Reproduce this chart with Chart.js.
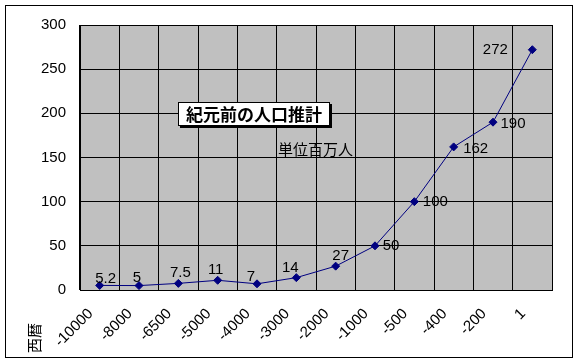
<!DOCTYPE html>
<html>
<head>
<meta charset="utf-8">
<script src="https://cdn.jsdelivr.net/npm/chart.js@4"></script>
<style>
html,body{margin:0;padding:0;background:#fff;}
#c{display:block;}
</style>
</head>
<body>
<canvas id="c" width="580" height="363"></canvas>
<script>
const categories = ['-10000','-8000','-6500','-5000','-4000','-3000','-2000','-1000','-500','-400','-200','1'];
const population = [5.2, 5, 7.5, 11, 7, 14, 27, 50, 100, 162, 190, 272];
const yMin = 0, yMax = 300, yStep = 50;
const chartTitle = '紀元前の人口推計';
const unitText = '単位百万人';
const xAxisTitle = '西暦';

// label placement offsets (px) relative to each point
const labelOffsets = [[6,-7],[-2,-8],[2,-11],[-2,-10],[-6,-7],[-6,-10],[5,-10],[16,0],[21,0],[22,2],[20,2],[-37,0]];

const latin = '"Liberation Sans", Arial, sans-serif';
const cjk = '"Noto Sans CJK JP", sans-serif';

const decor = {
  id: 'decor',
  beforeDraw(chart) {
    const {ctx, chartArea: a} = chart;
    ctx.save();
    ctx.fillStyle = '#fff';
    ctx.fillRect(0, 0, chart.width, chart.height);
    ctx.fillStyle = '#C0C0C0';
    ctx.fillRect(a.left, a.top, a.right - a.left, a.bottom - a.top);
    ctx.restore();
  },
  afterDraw(chart) {
    const {ctx} = chart;
    ctx.save();
    ctx.strokeStyle = '#000';
    ctx.lineWidth = 1;
    ctx.strokeRect(5.5, 5.5, 567, 352);
    ctx.fillStyle = '#000';
    ctx.fillRect(180, 104, 152, 24);
    ctx.fillStyle = '#fff';
    ctx.fillRect(178, 102, 152, 24);
    ctx.strokeStyle = '#000';
    ctx.strokeRect(178.5, 102.5, 151, 23);
    ctx.fillStyle = '#000';
    ctx.font = 'bold 17px ' + cjk;
    ctx.textAlign = 'center';
    ctx.textBaseline = 'middle';
    ctx.fillText(chartTitle, 254, 115);
    ctx.font = '15px ' + cjk;
    ctx.textAlign = 'left';
    ctx.fillText(unitText, 278, 149);
    ctx.translate(34, 338);
    ctx.rotate(-Math.PI / 2);
    ctx.font = '15px ' + cjk;
    ctx.textAlign = 'center';
    ctx.fillText(xAxisTitle, 0, 0);
    ctx.restore();
  },
  afterDatasetsDraw(chart) {
    const {ctx} = chart;
    const meta = chart.getDatasetMeta(0);
    ctx.save();
    ctx.fillStyle = '#000';
    ctx.font = '15px ' + latin;
    ctx.textAlign = 'center';
    ctx.textBaseline = 'middle';
    meta.data.forEach((pt, i) => {
      const off = labelOffsets[i] || [0, -10];
      ctx.fillText(String(population[i]), pt.x + off[0], pt.y + off[1]);
    });
    ctx.restore();
  }
};

new Chart(document.getElementById('c'), {
  type: 'line',
  data: {
    labels: categories,
    datasets: [{
      data: population,
      borderColor: '#000080',
      backgroundColor: '#000080',
      borderWidth: 1,
      pointStyle: 'rectRot',
      pointRadius: 4,
      pointBackgroundColor: '#000080',
      pointBorderColor: '#000080',
      tension: 0,
      fill: false
    }]
  },
  options: {
    responsive: false,
    animation: false,
    devicePixelRatio: 1,
    layout: { padding: { top: 25, right: 28, left: 0, bottom: 0 } },
    plugins: { legend: { display: false }, tooltip: { enabled: false }, title: { display: false } },
    scales: {
      x: {
        type: 'category',
        offset: true,
        grid: { color: '#000', lineWidth: 1, offset: true, drawTicks: false },
        border: { color: '#000', width: 1 },
        ticks: {
          color: '#000',
          font: { family: latin, size: 15 },
          minRotation: 45, maxRotation: 45,
          autoSkip: false,
          padding: 15,
          labelOffset: -9
        },
        afterFit(scale) { scale.height = 73; }
      },
      y: {
        min: yMin, max: yMax,
        grid: { color: '#000', lineWidth: 1, drawTicks: false },
        border: { color: '#000', width: 1 },
        ticks: {
          stepSize: yStep,
          color: '#000',
          font: { family: latin, size: 15 },
          padding: 14
        },
        afterFit(scale) { scale.width = 80; }
      }
    }
  },
  plugins: [decor]
});
</script>
</body>
</html>
